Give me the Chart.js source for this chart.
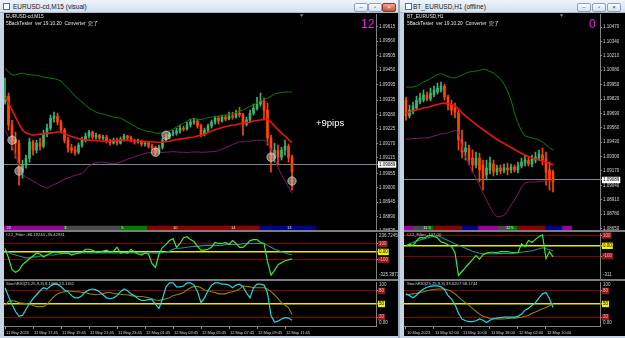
<!DOCTYPE html>
<html>
<head>
<meta charset="utf-8">
<title>EURUSD backtest charts</title>
<script src="https://cdn.jsdelivr.net/npm/chart.js@4.4.1/dist/chart.umd.min.js"></script>
<style>
	body { margin: 0; width: 625px; height: 338px; overflow: hidden; position: relative; background: #c5d3e2; font-family: "Liberation Sans", Arial, "Noto Sans CJK JP", sans-serif; }
	div, canvas { position: absolute; }
	.tbar { top: 0; height: 12px; background: linear-gradient(#eef3f9, #d5e0ec); border-bottom: 1px solid #a9bbcf; }
	.ttl { top: 3px; font-size: 6.5px; line-height: 7px; color: #202020; white-space: nowrap; }
	.ico { top: 3px; width: 5px; height: 5px; background: #ffffff; border: 1px solid #3f74b4; }
	.btn { top: 3px; width: 12px; height: 7px; border: 1px solid #8ea3ba; border-radius: 2px; background: linear-gradient(#fafcfe, #d6e0eb); font-size: 6px; line-height: 7px; text-align: center; color: #404040; }
	.blk { top: 13px; height: 323px; background: #000; }
	.sep { height: 2px; background: #7d7d7d; }
	.t { white-space: nowrap; line-height: 1; color: #e6e6e6; }
</style>
</head>
<body>
<div class="tbar" style="left:0;width:398px"></div>
<div class="ico" style="left:3px"></div>
<div class="ttl" style="left:13px">EURUSD-cd,M15 (visual)</div>
<div class="btn" style="left:354px">–</div>
<div class="btn" style="left:368px">▫</div>
<div class="btn" style="left:382px;background:linear-gradient(#eaa596,#c5503d);border-color:#8e3526;color:#fff">×</div>
<div style="left:398px;top:0;width:2px;height:338px;background:#9aaec4"></div>
<div class="tbar" style="left:400px;width:225px"></div>
<div class="ico" style="left:405px"></div>
<div class="ttl" style="left:413px">BT_EURUSD,H1 (offline)</div>
<div class="btn" style="left:577px">–</div>
<div class="btn" style="left:592px">▫</div>
<div class="btn" style="left:607px">×</div>

<div class="blk" style="left:4px;width:394px"></div>
<div class="blk" style="left:404px;width:221px"></div>

<canvas id="lMain" width="394" height="217" style="left:4px;top:14px"></canvas>
<canvas id="lCci" width="394" height="48" style="left:4px;top:232px"></canvas>
<canvas id="lSto" width="394" height="55" style="left:4px;top:281px"></canvas>
<canvas id="rMain" width="221" height="217" style="left:404px;top:14px"></canvas>
<canvas id="rCci" width="221" height="48" style="left:404px;top:232px"></canvas>
<canvas id="rSto" width="221" height="55" style="left:404px;top:281px"></canvas>

<div class="sep" style="left:4px;top:230px;width:394px"></div>
<div class="sep" style="left:4px;top:279px;width:394px"></div>
<div class="sep" style="left:404px;top:230px;width:221px"></div>
<div class="sep" style="left:404px;top:279px;width:221px"></div>

<div class="t" style="left:6px;top:15px;font-size:4.8px">EURUSD-cd,M15</div>
<div class="t" style="left:6px;top:22px;font-size:4.8px">5BackTester&nbsp; ver 19.10.20&nbsp; Converter&nbsp; 完了</div>
<div class="t" style="left:299px;top:13px;font-size:5px;color:#909090">▼</div>
<div class="t" style="left:361px;top:18px;font-size:12px;color:#e020e0">12</div>
<div class="t" style="left:316px;top:118px;font-size:9.5px;color:#ffffff">+9pips</div>
<div class="t" style="left:6px;top:233px;font-size:4.2px;color:#cccccc">CCI_Filter -86.19244 -35.42931</div>
<div class="t" style="left:6px;top:282px;font-size:4.2px;color:#cccccc">StochRSI(25,25,9,3) 8.1686 23.1162</div>

<div class="t" style="left:407px;top:15px;font-size:4.8px">BT_EURUSD,H1</div>
<div class="t" style="left:407px;top:22px;font-size:4.8px">5BackTester&nbsp; ver 19.10.20&nbsp; Converter&nbsp; 完了</div>
<div class="t" style="left:559px;top:13px;font-size:5px;color:#909090">▼</div>
<div class="t" style="left:589px;top:18px;font-size:12px;color:#e020e0">0</div>
<div class="t" style="left:407px;top:233px;font-size:4.2px;color:#cccccc">CCI_Filter -107.00</div>
<div class="t" style="left:407px;top:282px;font-size:4.2px;color:#cccccc">StochRSI(25,25,9,3) 39.6207 58.1744</div>

<script>
// ---- left window: EURUSD-cd M15 (visual) ----
const leftOpen = [1.09327, 1.09350, 1.09240, 1.09182, 1.09171, 1.09068, 1.09087, 1.09113, 1.09175, 1.09144,
	1.09171, 1.09159, 1.09205, 1.09228, 1.09266, 1.09274, 1.09251, 1.09220, 1.09182, 1.09152,
	1.09144, 1.09136, 1.09163, 1.09182, 1.09198, 1.09213, 1.09194, 1.09201, 1.09190, 1.09194,
	1.09178, 1.09171, 1.09182, 1.09171, 1.09186, 1.09198, 1.09190, 1.09182, 1.09175, 1.09178,
	1.09167, 1.09171, 1.09159, 1.09152, 1.09136, 1.09155, 1.09182, 1.09194, 1.09205, 1.09209,
	1.09217, 1.09228, 1.09224, 1.09240, 1.09251, 1.09255, 1.09236, 1.09205, 1.09220, 1.09236,
	1.09251, 1.09266, 1.09255, 1.09270, 1.09262, 1.09274, 1.09270, 1.09285, 1.09278, 1.09243,
	1.09259, 1.09285, 1.09304, 1.09320, 1.09331, 1.09297, 1.09190, 1.09113, 1.09144, 1.09117,
	1.09144, 1.09159, 1.09117];
const leftHigh = [1.09419, 1.09362, 1.09259, 1.09213, 1.09182, 1.09106, 1.09125, 1.09190, 1.09182, 1.09182,
	1.09190, 1.09220, 1.09243, 1.09278, 1.09289, 1.09285, 1.09259, 1.09228, 1.09194, 1.09167,
	1.09159, 1.09171, 1.09194, 1.09209, 1.09220, 1.09217, 1.09209, 1.09205, 1.09201, 1.09201,
	1.09186, 1.09190, 1.09190, 1.09194, 1.09205, 1.09201, 1.09198, 1.09186, 1.09186, 1.09182,
	1.09178, 1.09175, 1.09167, 1.09159, 1.09163, 1.09190, 1.09205, 1.09213, 1.09220, 1.09228,
	1.09240, 1.09236, 1.09251, 1.09262, 1.09266, 1.09262, 1.09243, 1.09228, 1.09243, 1.09259,
	1.09274, 1.09274, 1.09278, 1.09278, 1.09289, 1.09289, 1.09297, 1.09308, 1.09285, 1.09270,
	1.09297, 1.09320, 1.09346, 1.09362, 1.09343, 1.09324, 1.09201, 1.09171, 1.09163, 1.09155,
	1.09182, 1.09167, 1.09125];
const leftLow = [1.09320, 1.09220, 1.09144, 1.09113, 1.09010, 1.09037, 1.09075, 1.09098, 1.09125, 1.09133,
	1.09144, 1.09152, 1.09194, 1.09220, 1.09251, 1.09240, 1.09209, 1.09171, 1.09136, 1.09133,
	1.09125, 1.09129, 1.09155, 1.09175, 1.09190, 1.09186, 1.09186, 1.09182, 1.09182, 1.09171,
	1.09163, 1.09167, 1.09163, 1.09167, 1.09178, 1.09182, 1.09175, 1.09167, 1.09171, 1.09159,
	1.09159, 1.09152, 1.09144, 1.09125, 1.09129, 1.09148, 1.09175, 1.09186, 1.09198, 1.09201,
	1.09209, 1.09217, 1.09220, 1.09232, 1.09243, 1.09228, 1.09194, 1.09198, 1.09213, 1.09228,
	1.09243, 1.09243, 1.09251, 1.09255, 1.09259, 1.09262, 1.09266, 1.09270, 1.09201, 1.09236,
	1.09251, 1.09278, 1.09297, 1.09312, 1.09259, 1.09163, 1.09060, 1.09098, 1.09087, 1.09106,
	1.09125, 1.09098, 1.08991];
const leftClose = [1.09350, 1.09240, 1.09182, 1.09171, 1.09068, 1.09087, 1.09113, 1.09175, 1.09144, 1.09171,
	1.09159, 1.09205, 1.09228, 1.09266, 1.09274, 1.09251, 1.09220, 1.09182, 1.09152, 1.09144,
	1.09136, 1.09163, 1.09182, 1.09198, 1.09213, 1.09194, 1.09201, 1.09190, 1.09194, 1.09178,
	1.09171, 1.09182, 1.09171, 1.09186, 1.09198, 1.09190, 1.09182, 1.09175, 1.09178, 1.09167,
	1.09171, 1.09159, 1.09152, 1.09136, 1.09155, 1.09182, 1.09194, 1.09205, 1.09209, 1.09217,
	1.09228, 1.09224, 1.09240, 1.09251, 1.09255, 1.09236, 1.09205, 1.09220, 1.09236, 1.09251,
	1.09266, 1.09255, 1.09270, 1.09262, 1.09274, 1.09270, 1.09285, 1.09278, 1.09243, 1.09259,
	1.09285, 1.09304, 1.09320, 1.09331, 1.09297, 1.09190, 1.09113, 1.09144, 1.09117, 1.09144,
	1.09159, 1.09117, 1.09060];
const leftMa = [1.09346, 1.09324, 1.09297, 1.09270, 1.09243, 1.09220, 1.09209, 1.09205, 1.09201, 1.09203,
	1.09205, 1.09207, 1.09209, 1.09209, 1.09211, 1.09213, 1.09213, 1.09207, 1.09201, 1.09196,
	1.09192, 1.09188, 1.09186, 1.09182, 1.09182, 1.09181, 1.09180, 1.09179, 1.09178, 1.09178,
	1.09179, 1.09180, 1.09181, 1.09182, 1.09182, 1.09181, 1.09180, 1.09179, 1.09178, 1.09178,
	1.09177, 1.09176, 1.09175, 1.09175, 1.09173, 1.09175, 1.09177, 1.09178, 1.09182, 1.09184,
	1.09186, 1.09188, 1.09190, 1.09192, 1.09194, 1.09198, 1.09201, 1.09205, 1.09211, 1.09217,
	1.09222, 1.09226, 1.09230, 1.09234, 1.09236, 1.09240, 1.09241, 1.09245, 1.09247, 1.09249,
	1.09251, 1.09255, 1.09257, 1.09259, 1.09261, 1.09262, 1.09251, 1.09236, 1.09222, 1.09209,
	1.09198, 1.09184, 1.09173];
const leftBandUp = [1.09457, 1.09442, 1.09431, 1.09431, 1.09436, 1.09438, 1.09434, 1.09432, 1.09431, 1.09429,
	1.09427, 1.09423, 1.09421, 1.09419, 1.09417, 1.09413, 1.09408, 1.09392, 1.09381, 1.09366,
	1.09350, 1.09339, 1.09327, 1.09316, 1.09304, 1.09297, 1.09289, 1.09285, 1.09282, 1.09278,
	1.09274, 1.09270, 1.09268, 1.09266, 1.09259, 1.09251, 1.09243, 1.09236, 1.09228, 1.09222,
	1.09218, 1.09215, 1.09213, 1.09209, 1.09209, 1.09209, 1.09213, 1.09218, 1.09224, 1.09232,
	1.09240, 1.09247, 1.09255, 1.09262, 1.09266, 1.09262, 1.09261, 1.09264, 1.09268, 1.09270,
	1.09272, 1.09274, 1.09276, 1.09278, 1.09280, 1.09283, 1.09287, 1.09293, 1.09297, 1.09304,
	1.09312, 1.09316, 1.09324, 1.09331, 1.09337, 1.09343, 1.09350, 1.09358, 1.09362, 1.09364,
	1.09366, 1.09366, 1.09366];
const leftBandLow = [1.09220, 1.09194, 1.09163, 1.09125, 1.09087, 1.09052, 1.09041, 1.09033, 1.09026, 1.09018,
	1.09010, 1.09003, 1.08999, 1.09006, 1.09012, 1.09018, 1.09026, 1.09033, 1.09037, 1.09043,
	1.09047, 1.09051, 1.09054, 1.09068, 1.09083, 1.09091, 1.09096, 1.09098, 1.09098, 1.09096,
	1.09094, 1.09094, 1.09094, 1.09098, 1.09104, 1.09110, 1.09113, 1.09119, 1.09123, 1.09127,
	1.09131, 1.09134, 1.09136, 1.09137, 1.09136, 1.09135, 1.09136, 1.09137, 1.09138, 1.09137,
	1.09136, 1.09136, 1.09135, 1.09136, 1.09137, 1.09137, 1.09136, 1.09136, 1.09137, 1.09138,
	1.09139, 1.09142, 1.09148, 1.09153, 1.09159, 1.09165, 1.09171, 1.09175, 1.09176, 1.09178,
	1.09178, 1.09180, 1.09182, 1.09182, 1.09182, 1.09175, 1.09144, 1.09110, 1.09079, 1.09049,
	1.09026, 1.09003, 1.08980];
const leftMarkIndex = [2, 4, 43, 46, 76, 82];
const leftMarkPrice = [1.09182, 1.09064, 1.09136, 1.09201, 1.09117, 1.09026];
const leftBid = 1.09089;
const leftPriceRange = [1.08835, 1.09664];
const leftPriceTicks = [1.09615, 1.09560, 1.09505, 1.09450, 1.09395, 1.09335, 1.09280, 1.09225, 1.09170,
	1.09115, 1.09055, 1.09000, 1.08945, 1.08890, 1.08835];
const leftStripStart = [-0.3, 16.6, 32.9, 40.6, 72.6];
const leftStripEnd = [16.6, 32.9, 40.6, 72.6, 88.6];
const leftStripText = ["22", "3", "5", "10", "14", "13"];
const leftStripTextIndex = [0.4, 16.9, 33.2, 48, 64.6, 80.6];
const leftCciFast = [45, -74, -218, -254, -230, -158, -122, -86, -50, -14,
	-26, -62, -38, -14, -2, -2, -14, -14, -14, -38,
	-26, -14, -2, 34, 34, 22, -2, -2, 10, 22,
	-2, 10, 58, -14, -2, -14, 34, -2, -26, -38,
	-14, -26, -146, -194, -26, 58, 94, 142, 166, 58,
	106, 178, 190, 154, 130, 70, 22, 22, 34, 58,
	118, 106, 106, 118, 94, 142, 106, 58, 58, 94,
	142, 154, 154, 118, 106, -122, -290, -230, -158, -134,
	-110, -98, -86];
const leftCciSlow = [22, -2, -26, -38, -50, -62, -74, -74, -62, -62,
	-50, -50, -38, -38, -38, -26, -26, -14, -14, -14,
	-12, -12, -14, -14, -12, -12, -14, -14, -12, -12,
	-14, -14, -12, -12, -14, -14, -12, -14, -14, -16,
	-16, -14, -14, -16, -14, -8, -2, 10, 34, 46,
	46, 52, 58, 64, 70, 70, 76, 82, 82, 82,
	82, 82, 82, 94, 94, 94, 94, 94, 106, 106,
	106, 106, 106, 106, 106, 82, 58, 34, 22, -2,
	-14, -26, -36];
const leftCciRange = [-325.3873, 236.72455];
const leftStochMain = [87, 67, 49, 33, 22, 24, 38, 51, 62, 71,
	80, 87, 84, 91, 95, 95, 89, 82, 78, 69,
	64, 64, 69, 78, 82, 84, 82, 78, 71, 64,
	62, 64, 69, 78, 84, 80, 73, 69, 62, 58,
	58, 60, 60, 49, 40, 62, 89, 98, 98, 89,
	89, 91, 98, 98, 93, 78, 53, 64, 80, 93,
	98, 98, 95, 95, 93, 87, 93, 95, 89, 75,
	64, 87, 95, 95, 93, 75, 24, 9, 11, 16,
	19, 18, 13];
const leftStochSignal = [47, 56, 58, 56, 53, 52, 51, 49, 47, 44,
	44, 44, 49, 58, 67, 73, 76, 78, 80, 79,
	78, 78, 76, 76, 73, 72, 71, 72, 73, 76,
	76, 74, 73, 72, 71, 71, 69, 68, 67, 67,
	66, 64, 62, 59, 58, 60, 62, 64, 69, 71,
	73, 76, 82, 87, 90, 90, 87, 82, 80, 78,
	76, 73, 73, 73, 76, 78, 80, 84, 91, 90,
	89, 87, 87, 87, 87, 84, 78, 71, 62, 53,
	47, 42, 26];
const leftTimeIndex = [0, 8, 16, 24, 32, 40, 48, 56, 64, 72, 80];
const leftTimeLabels = ["11 May 2023", "11 May 17:45", "11 May 19:45", "11 May 21:45", "11 May 23:45",
	"12 May 01:45", "12 May 03:45", "12 May 05:45", "12 May 07:45", "12 May 09:45", "12 May 11:45"];
const leftBarRange = [-0.29, 106];

// ---- right window: BT_EURUSD H1 (offline) ----
const rightOpen = [1.09811, 1.09667, 1.09703, 1.09739, 1.09793, 1.09811, 1.09856, 1.09820, 1.09856, 1.09883,
	1.09901, 1.09937, 1.09838, 1.09766, 1.09739, 1.09694, 1.09450, 1.09341, 1.09378, 1.09287,
	1.09224, 1.09287, 1.09224, 1.09134, 1.09179, 1.09233, 1.09161, 1.09197, 1.09170, 1.09197,
	1.09179, 1.09206, 1.09179, 1.09215, 1.09242, 1.09269, 1.09233, 1.09269, 1.09287, 1.09314,
	1.09287, 1.09179, 1.09161];
const rightHigh = [1.09838, 1.09766, 1.09793, 1.09847, 1.09874, 1.09901, 1.09883, 1.09919, 1.09937, 1.09965,
	1.09974, 1.09955, 1.09856, 1.09811, 1.09783, 1.09721, 1.09540, 1.09432, 1.09405, 1.09360,
	1.09341, 1.09332, 1.09269, 1.09269, 1.09296, 1.09269, 1.09224, 1.09224, 1.09233, 1.09242,
	1.09233, 1.09224, 1.09251, 1.09287, 1.09314, 1.09296, 1.09314, 1.09341, 1.09359, 1.09378,
	1.09341, 1.09251, 1.09179];
const rightLow = [1.09630, 1.09649, 1.09685, 1.09721, 1.09775, 1.09793, 1.09802, 1.09802, 1.09838, 1.09865,
	1.09883, 1.09811, 1.09721, 1.09676, 1.09649, 1.09360, 1.09287, 1.09269, 1.09224, 1.09161,
	1.09197, 1.09071, 1.08998, 1.09089, 1.09143, 1.09125, 1.09134, 1.09143, 1.09152, 1.09134,
	1.09152, 1.09161, 1.09152, 1.09197, 1.09215, 1.09215, 1.09206, 1.09242, 1.09269, 1.09224,
	1.09043, 1.08998, 1.08980];
const rightClose = [1.09667, 1.09721, 1.09757, 1.09811, 1.09829, 1.09856, 1.09820, 1.09874, 1.09901, 1.09919,
	1.09937, 1.09838, 1.09766, 1.09721, 1.09703, 1.09450, 1.09341, 1.09378, 1.09269, 1.09224,
	1.09287, 1.09179, 1.09107, 1.09197, 1.09242, 1.09161, 1.09197, 1.09170, 1.09197, 1.09179,
	1.09206, 1.09179, 1.09215, 1.09251, 1.09269, 1.09233, 1.09278, 1.09296, 1.09323, 1.09269,
	1.09161, 1.09089, 1.09071];
const rightMa = [1.09694, 1.09703, 1.09712, 1.09721, 1.09730, 1.09739, 1.09743, 1.09752, 1.09761, 1.09770,
	1.09779, 1.09783, 1.09779, 1.09770, 1.09757, 1.09730, 1.09694, 1.09667, 1.09640, 1.09617,
	1.09590, 1.09567, 1.09545, 1.09522, 1.09499, 1.09477, 1.09454, 1.09436, 1.09418, 1.09400,
	1.09382, 1.09364, 1.09346, 1.09328, 1.09314, 1.09301, 1.09287, 1.09278, 1.09269, 1.09260,
	1.09251, 1.09238, 1.09224];
const rightBandUp = [1.09928, 1.09928, 1.09928, 1.09937, 1.09955, 1.09974, 1.09987, 1.10005, 1.10023, 1.10041,
	1.10050, 1.10037, 1.10023, 1.10014, 1.10010, 1.10023, 1.10037, 1.10050, 1.10064, 1.10068,
	1.10073, 1.10078, 1.10091, 1.10082, 1.10068, 1.10055, 1.10028, 1.10001, 1.09955, 1.09892,
	1.09811, 1.09694, 1.09603, 1.09531, 1.09486, 1.09477, 1.09468, 1.09459, 1.09450, 1.09432,
	1.09405, 1.09378, 1.09360];
const rightBandLow = [1.09459, 1.09459, 1.09463, 1.09463, 1.09468, 1.09468, 1.09468, 1.09477, 1.09486, 1.09495,
	1.09504, 1.09509, 1.09513, 1.09527, 1.09536, 1.09522, 1.09387, 1.09296, 1.09233, 1.09161,
	1.09107, 1.09043, 1.08971, 1.08908, 1.08845, 1.08791, 1.08755, 1.08759, 1.08768, 1.08809,
	1.08863, 1.08908, 1.08962, 1.09025, 1.09061, 1.09071, 1.09071, 1.09071, 1.09075, 1.09080,
	1.09080, 1.09084, 1.09089];
const rightBid = 1.09089;
const rightPriceRange = [1.08628, 1.10588];
const rightPriceTicks = [1.10470, 1.10340, 1.10210, 1.10080, 1.09950, 1.09820, 1.09690, 1.09560, 1.09430,
	1.09300, 1.09170, 1.09040, 1.08910, 1.08780, 1.08650];
const rightStripStart = [-0.6, 2, 6, 7.7, 16, 20.6, 26, 29.7, 31.7, 39.7, 44.6];
const rightStripEnd = [2, 6, 7.7, 16, 20.6, 26, 29.7, 31.7, 39.7, 44.6, 47.4];
const rightStripText = ["11", "5", "12", "5"];
const rightStripTextIndex = [4.9, 6.4, 28.6, 30.1];
const rightCciFast = [0, 14, 5, 48, 81, 76, 90, 100, 90, 76,
	38, 29, 10, -5, -67, -286, -248, -209, -171, -133,
	-95, -128, -86, -71, -62, -62, -67, -57, -57, -57,
	-62, -67, -67, 19, -10, 52, 33, 62, 90, 105,
	-124, -57, -107];
const rightCciSlow = [0, 19, 33, 48, 57, 67, 76, 86, 90, 95,
	86, 67, 52, 38, 19, 5, -10, -24, -38, -52,
	-62, -71, -76, -77, -77, -76, -75, -75, -74, -74,
	-75, -71, -67, -62, -57, -52, -48, -38, -29, -19,
	-29, -38, -48];
const rightCciRange = [-311, 124];
const rightStochMain = [73, 69, 64, 70, 78, 84, 88, 90, 91, 91,
	89, 83, 69, 61, 49, 29, 16, 12, 10, 10,
	12, 16, 13, 8, 13, 17, 18, 19, 20, 20,
	20, 20, 22, 27, 36, 40, 47, 53, 64, 73,
	76, 62, 42];
const rightStochSignal = [71, 72, 73, 74, 76, 78, 80, 82, 83, 84,
	84, 84, 82, 79, 73, 66, 59, 53, 47, 40,
	33, 27, 22, 20, 17, 16, 16, 16, 16, 17,
	18, 18, 19, 20, 22, 24, 29, 32, 36, 39,
	42, 46, 52];
const rightTimeIndex = [0, 8, 16, 24, 32, 40];
const rightTimeLabels = ["10 May 2023", "11 May 02:00", "11 May 10:00", "11 May 18:00", "12 May 02:00", "12 May 10:00"];
const rightBarRange = [-0.57, 55.43];

// indicator levels
const cciLevels = [100, 0, -100];
const cciLevelText = ["100", "0.00", "-100"];
const stochLevels = [80, 50, 20];
const stochLevelText = ["80", "50", "20"];
const stochRange = [0, 100];

// ---- styles ----
const family = "'Liberation Sans', Arial, sans-serif";
const axisText = "#d2d2d2";
const bull = "#3cb371";
const bear = "#ff4500";
const levelLine = ["#8b0000", "#e8e800", "#8b0000"];
const levelWidth = [1, 1.6, 1];
const levelBox = ["#8e1b1b", "#f0f000", "#8e1b1b"];
const levelInk = ["#ffb4b4", "#000000", "#ffb4b4"];
const stripColors = ["#9a009a", "#4a4a4a", "#007a00", "#8b0000", "#00008b", "#9a009a", "#4a4a4a", "#007a00", "#8b0000", "#00008b", "#9a009a"];

Chart.defaults.font.family = family;

function noPad(s) {
	s.paddingTop = 0;
	s.paddingBottom = 0;
	s.paddingLeft = 0;
	s.paddingRight = 0;
}

function points(values) {
	return values.map(function (v, i) {
		return { x: i, y: v };
	});
}

function lineSet(values, color, width, order, axis) {
	return {
		type: "line",
		data: points(values),
		borderColor: color,
		borderWidth: width,
		pointRadius: 0,
		tension: 0,
		order: order,
		yAxisID: axis || "y",
	};
}

function textPlugin(cfg) {
	return {
		id: "panelText",
		afterDraw: function (chart) {
			const ctx = chart.ctx;
			const area = chart.chartArea;
			ctx.save();
			ctx.font = "4.5px " + family;
			ctx.fillStyle = axisText;
			ctx.textAlign = "left";
			if (cfg.top) {
				ctx.textBaseline = "top";
				ctx.fillText(cfg.top, area.right + 3, area.top + 0.5);
			}
			if (cfg.bottom) {
				ctx.textBaseline = "bottom";
				ctx.fillText(cfg.bottom, area.right + 3, area.bottom - 0.5);
			}
			if (cfg.stripText) {
				const x = chart.scales.x;
				const y = chart.scales.ys.getPixelForValue(0.5);
				ctx.font = "4px " + family;
				ctx.fillStyle = "#eeeeee";
				ctx.textBaseline = "middle";
				cfg.stripText.forEach(function (t, k) {
					ctx.fillText(t, x.getPixelForValue(cfg.stripIndex[k]), y);
				});
			}
			ctx.restore();
		},
	};
}

function priceChart(id, d) {
	const color = function (ctx) {
		const i = ctx.dataIndex;
		return d.close[i] >= d.open[i] ? bull : bear;
	};
	const datasets = [
		lineSet(d.ma, "#ee1111", 1.6, 1),
		lineSet(d.bandUp, "#0b7a0b", 1, 2),
		lineSet(d.bandLow, "#7a1a66", 1, 2),
		{
			type: "bar",
			data: d.open.map(function (v, i) {
				return { x: i, y: [v, d.close[i]] };
			}),
			backgroundColor: color,
			barThickness: 2,
			minBarLength: 1,
			grouped: false,
			yAxisID: "y",
			order: 3,
		},
		{
			type: "bar",
			data: d.open.map(function (v, i) {
				return { x: i, y: [d.low[i], d.high[i]] };
			}),
			backgroundColor: color,
			barThickness: 1,
			grouped: false,
			yAxisID: "y",
			order: 4,
		},
	];
	d.stripStart.forEach(function (s, k) {
		datasets.push({
			type: "line",
			data: [{ x: s, y: 0.5 }, { x: d.stripEnd[k], y: 0.5 }],
			borderColor: stripColors[k],
			borderWidth: 5,
			borderCapStyle: "butt",
			pointRadius: 0,
			yAxisID: "ys",
			order: 5,
		});
	});
	if (d.markIndex) {
		const marks = d.markIndex.map(function (x, k) {
			return { x: x, y: d.markPrice[k] };
		});
		datasets.push({
			type: "line",
			data: marks,
			showLine: false,
			pointRadius: 4.2,
			pointBackgroundColor: "rgba(200,200,200,0.55)",
			pointBorderColor: "rgba(235,225,215,0.8)",
			pointBorderWidth: 0.8,
			yAxisID: "y",
			order: 0,
		});
		datasets.push({
			type: "line",
			data: marks,
			showLine: false,
			pointRadius: 1.5,
			pointBackgroundColor: "#ff7a3c",
			pointBorderWidth: 0,
			yAxisID: "y",
			order: -1,
		});
	}
	return new Chart(document.getElementById(id), {
		type: "bar",
		data: { datasets: datasets },
		options: {
			responsive: false,
			animation: false,
			events: [],
			layout: { padding: 0, autoPadding: false },
			plugins: { legend: { display: false }, tooltip: { enabled: false } },
			scales: {
				x: { type: "linear", min: d.bars[0], max: d.bars[1], offset: false, display: false },
				y: {
					position: "right",
					min: d.range[0],
					max: d.range[1],
					afterFit: function (s) {
						s.width = d.axisWidth;
						noPad(s);
					},
					afterBuildTicks: function (s) {
						s.ticks = d.ticks.concat([d.bid]).map(function (v) {
							return { value: v };
						});
					},
					ticks: {
						autoSkip: false,
						padding: 1,
						font: { size: 4.5 },
						color: function (ctx) {
							return ctx.tick.value === d.bid ? "#000000" : axisText;
						},
						showLabelBackdrop: function (ctx) {
							return ctx.tick.value === d.bid;
						},
						backdropColor: "#ffffff",
						backdropPadding: { x: 1, y: 0.5 },
						callback: function (v) {
							return v.toFixed(5);
						},
					},
					grid: {
						color: function (ctx) {
							return ctx.tick && ctx.tick.value === d.bid ? "#7a8794" : "rgba(0,0,0,0)";
						},
						tickLength: 2,
						tickColor: "#909090",
					},
					border: { color: "#808080" },
				},
				ys: { type: "linear", min: 0, max: 40, display: false },
			},
		},
		plugins: [textPlugin({ stripText: d.stripText, stripIndex: d.stripIndex })],
	});
}

function oscChart(id, d) {
	const x = d.time
		? {
				type: "linear",
				min: d.bars[0],
				max: d.bars[1],
				offset: false,
				afterFit: function (s) {
					s.height = 10;
					noPad(s);
				},
				afterBuildTicks: function (s) {
					s.ticks = d.time.map(function (v) {
						return { value: v };
					});
				},
				ticks: {
					autoSkip: false,
					maxRotation: 0,
					minRotation: 0,
					align: "start",
					labelOffset: 1,
					padding: 1,
					font: { size: 4 },
					color: axisText,
					callback: function (v, i) {
						return d.timeText[i];
					},
				},
				grid: { drawOnChartArea: false, tickLength: 3, tickColor: "#909090" },
				border: { color: "#808080" },
		  }
		: { type: "linear", min: d.bars[0], max: d.bars[1], offset: false, display: false };
	return new Chart(document.getElementById(id), {
		type: "line",
		data: {
			datasets: [lineSet(d.fast, d.fastColor, 1.2, 0), lineSet(d.slow, d.slowColor, 1.1, 1)],
		},
		options: {
			responsive: false,
			animation: false,
			events: [],
			layout: { padding: d.padding, autoPadding: false },
			plugins: { legend: { display: false }, tooltip: { enabled: false } },
			scales: {
				x: x,
				y: {
					position: "right",
					min: d.range[0],
					max: d.range[1],
					afterFit: function (s) {
						s.width = d.axisWidth;
						noPad(s);
					},
					afterBuildTicks: function (s) {
						s.ticks = d.levels.map(function (v) {
							return { value: v };
						});
					},
					ticks: {
						autoSkip: false,
						padding: 1,
						font: { size: 4.5 },
						color: function (ctx) {
							return levelInk[ctx.index];
						},
						showLabelBackdrop: true,
						backdropColor: function (ctx) {
							return levelBox[ctx.index];
						},
						backdropPadding: { x: 1, y: 0.5 },
						callback: function (v, i) {
							return d.levelText[i];
						},
					},
					grid: {
						color: function (ctx) {
							return levelLine[ctx.index];
						},
						lineWidth: function (ctx) {
							return levelWidth[ctx.index];
						},
						tickLength: 2,
						tickColor: "#909090",
					},
					border: { color: "#808080" },
				},
			},
		},
		plugins: [textPlugin({ top: d.topText, bottom: d.bottomText })],
	});
}

priceChart("lMain", {
	open: leftOpen, high: leftHigh, low: leftLow, close: leftClose,
	ma: leftMa, bandUp: leftBandUp, bandLow: leftBandLow,
	bid: leftBid, range: leftPriceRange, ticks: leftPriceTicks, bars: leftBarRange, axisWidth: 22,
	stripStart: leftStripStart, stripEnd: leftStripEnd, stripText: leftStripText, stripIndex: leftStripTextIndex,
	markIndex: leftMarkIndex, markPrice: leftMarkPrice,
});
oscChart("lCci", {
	fast: leftCciFast, slow: leftCciSlow, fastColor: "#33ee33", slowColor: "#1b8f9c",
	range: leftCciRange, levels: cciLevels, levelText: cciLevelText, bars: leftBarRange, axisWidth: 22,
	padding: { top: 1, bottom: 2 }, topText: "236.72455", bottomText: "-325.3873",
});
oscChart("lSto", {
	fast: leftStochMain, slow: leftStochSignal, fastColor: "#1ed8e6", slowColor: "#8f8410",
	range: stochRange, levels: stochLevels, levelText: stochLevelText, bars: leftBarRange, axisWidth: 22,
	padding: { top: 1 }, topText: "100", bottomText: "0.00", time: leftTimeIndex, timeText: leftTimeLabels,
});

priceChart("rMain", {
	open: rightOpen, high: rightHigh, low: rightLow, close: rightClose,
	ma: rightMa, bandUp: rightBandUp, bandLow: rightBandLow,
	bid: rightBid, range: rightPriceRange, ticks: rightPriceTicks, bars: rightBarRange, axisWidth: 25,
	stripStart: rightStripStart, stripEnd: rightStripEnd, stripText: rightStripText, stripIndex: rightStripTextIndex,
});
oscChart("rCci", {
	fast: rightCciFast, slow: rightCciSlow, fastColor: "#33ee33", slowColor: "#1b8f9c",
	range: rightCciRange, levels: cciLevels, levelText: cciLevelText, bars: rightBarRange, axisWidth: 25,
	padding: { top: 1, bottom: 2 }, bottomText: "-311",
});
oscChart("rSto", {
	fast: rightStochMain, slow: rightStochSignal, fastColor: "#1ed8e6", slowColor: "#8f8410",
	range: stochRange, levels: stochLevels, levelText: stochLevelText, bars: rightBarRange, axisWidth: 25,
	padding: { top: 1 }, topText: "100", bottomText: "0.00", time: rightTimeIndex, timeText: rightTimeLabels,
});
</script>
</body>
</html>
